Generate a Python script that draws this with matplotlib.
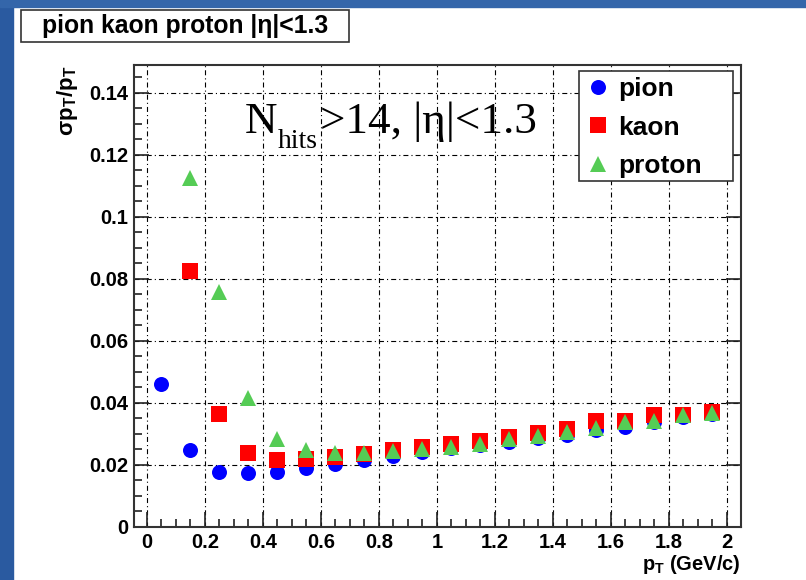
import numpy as np
import matplotlib
matplotlib.use('Agg')
from matplotlib import pyplot as plt
from matplotlib.patches import Rectangle
from matplotlib.ticker import MultipleLocator

plt.rcParams['font.family'] = ['Liberation Sans', 'DejaVu Sans']
plt.rcParams['mathtext.fontset'] = 'custom'
plt.rcParams['mathtext.rm'] = 'Liberation Serif'
plt.rcParams['mathtext.bf'] = 'Liberation Sans:bold'
plt.rcParams['lines.scale_dashes'] = False

# bin centres in pT (GeV/c)
pt = [0.05, 0.15, 0.25, 0.35, 0.45, 0.55, 0.65, 0.75, 0.85, 0.95,
      1.05, 1.15, 1.25, 1.35, 1.45, 1.55, 1.65, 1.75, 1.85, 1.95]

pion = [0.0460, 0.0247, 0.0178, 0.0173, 0.0178, 0.0190, 0.0203, 0.0215, 0.0229, 0.0242,
        0.0254, 0.0265, 0.0275, 0.0287, 0.0297, 0.0313, 0.0322, 0.0340, 0.0355, 0.0363]
kaon = [None, 0.0827, 0.0363, 0.0240, 0.0216, 0.0219, 0.0226, 0.0234, 0.0247, 0.0259,
        0.0267, 0.0278, 0.0291, 0.0304, 0.0316, 0.0343, 0.0343, 0.0361, 0.0361, 0.0372]
proton = [None, 0.1125, 0.0759, 0.0415, 0.0283, 0.0248, 0.0240, 0.0240, 0.0244, 0.0252,
          0.0259, 0.0269, 0.0283, 0.0294, 0.0307, 0.0320, 0.0338, 0.0343, 0.0361, 0.0367]

series = [('pion', pion, 'o', '#0000ff', 10.8),
          ('kaon', kaon, 's', '#ff0000', 11.0),
          ('proton', proton, '^', '#55cc55', 11.5)]

W, H = 806, 580


def fx(px):
    return px / W


def fy(py):
    return 1 - py / H


fig = plt.figure(figsize=(W / 100, H / 100), dpi=100)

# slide background strips
fig.patches.append(Rectangle((0, 0), fx(13), 1, transform=fig.transFigure,
                             color='#2a5aa0', zorder=0))
fig.patches.append(Rectangle((0, fy(7)), 1, 7 / H, transform=fig.transFigure,
                             color='#3466aa', zorder=0))

ax = fig.add_axes([fx(134), fy(527), 607 / W, 462 / H])

for name, vals, marker, color, ms in series:
    x = [p for p, v in zip(pt, vals) if v is not None]
    y = [v for v in vals if v is not None]
    ax.plot(x, y, linestyle='none', marker=marker, color=color, markersize=ms,
            markeredgewidth=0, label=name, zorder=3)

ax.set_xlim(-0.0448, 2.0483)
ax.set_ylim(0, 0.149)

ax.xaxis.set_minor_locator(MultipleLocator(0.05))
ax.yaxis.set_minor_locator(MultipleLocator(0.005))
ax.set_xticks(np.arange(0, 2.01, 0.2))
ax.set_xticklabels(['0', '0.2', '0.4', '0.6', '0.8', '1', '1.2', '1.4', '1.6', '1.8', '2'])
ax.set_yticks(np.arange(0, 0.141, 0.02))
ax.set_yticklabels(['0', '0.02', '0.04', '0.06', '0.08', '0.1', '0.12', '0.14'])

ax.tick_params(which='both', direction='in', labelsize=14.5, width=1.2, colors='#222222')
ax.tick_params(which='major', length=11)
ax.tick_params(which='minor', length=6)
ax.tick_params(axis='x', pad=4)
ax.tick_params(axis='y', pad=4)
ax.tick_params(axis='y', which='major', right=True)
for lab in ax.get_xticklabels() + ax.get_yticklabels():
    lab.set_fontweight('bold')
    lab.set_color('black')

ax.grid(True, which='major', color='black', linewidth=0.8,
        linestyle=(0, (3.6, 2.2, 0.8, 2.2)), zorder=1)
for s in ax.spines.values():
    s.set_linewidth(1.5)
    s.set_color('#333333')

fig.text(fx(741), fy(570), r'$\mathbf{p_{T}}$ (GeV/c)', ha='right',
         va='baseline', fontsize=14.5, fontweight='bold')
fig.text(fx(67), fy(66), r'$\mathbf{\sigma p_{T}/p_{T}}$', rotation=90,
         ha='center', va='top', fontsize=16, fontweight='bold')

# N_hits>14, |eta|<1.3 drawn as three pieces to get the deep subscript
fig.text(fx(245), fy(133), 'N', family='Liberation Serif', fontsize=32.5, va='baseline')
fig.text(fx(278), fy(148), 'hits', family='Liberation Serif', fontsize=20, va='baseline')
fig.text(fx(320), fy(133), '>14, |η|<1.3', family='Liberation Serif', fontsize=32.5,
         va='baseline')

# legend: ROOT style box drawn by hand, entries from the plotted series
ax.add_patch(Rectangle((fx(579), fy(181)), 154 / W, 110 / H, transform=fig.transFigure,
                       facecolor='white', edgecolor='#333333', linewidth=1.2,
                       zorder=4.5, clip_on=False))
leg = ax.legend(loc='upper left', bbox_to_anchor=(fx(585), fy(77)),
                bbox_transform=fig.transFigure, prop={'weight': 'bold', 'size': 19},
                frameon=False, handlelength=1.0, handletextpad=0.25, labelspacing=0.55,
                borderpad=0, borderaxespad=0)
leg.set_zorder(5)

# title box
fig.patches.append(Rectangle((fx(21), fy(42)), 328 / W, 32 / H,
                             transform=fig.transFigure, facecolor='white',
                             edgecolor='#333333', linewidth=1.2, zorder=2))
fig.text(fx(185), fy(26), 'pion kaon proton |η|<1.3', ha='center', va='center',
         fontsize=17.8, fontweight='bold', zorder=3)

fig.savefig('out.png', dpi=100)
